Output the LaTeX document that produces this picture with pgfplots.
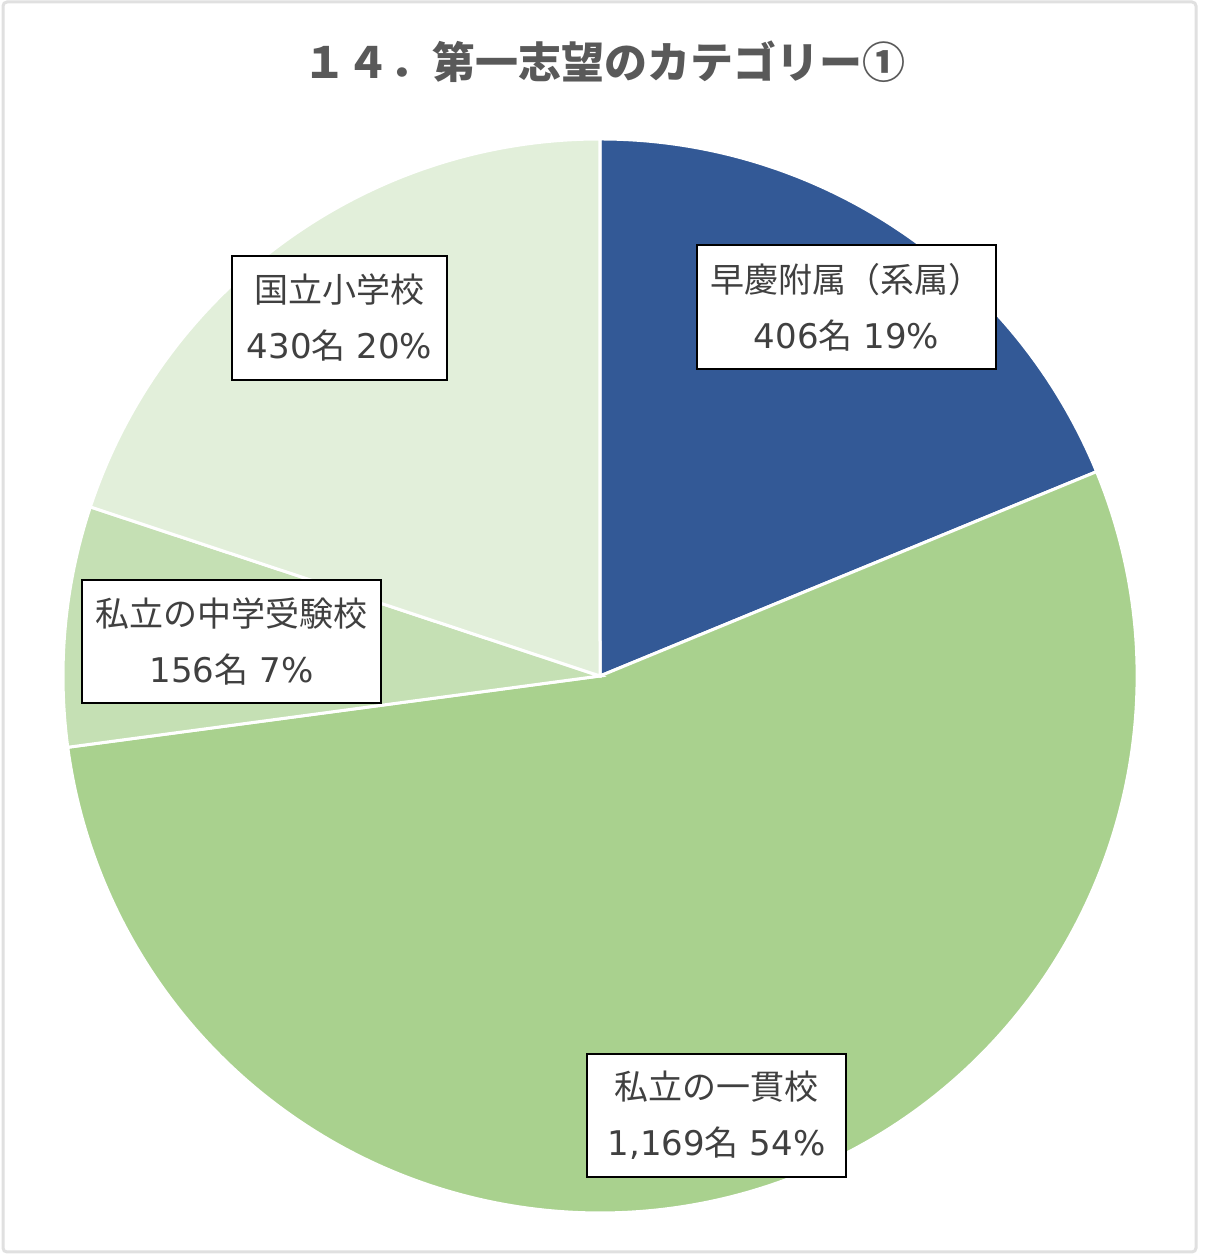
\documentclass[border=0pt]{standalone}
\usepackage{pgfplots}
\pgfplotsset{compat=1.18}
\usepackage{fontspec}
\setmainfont{Noto Sans CJK JP}
\newfontfamily\lat{DejaVu Sans}

\definecolor{sokei}{HTML}{335996}
\definecolor{ikkan}{HTML}{A9D18E}
\definecolor{juken}{HTML}{C5E0B4}
\definecolor{kokuritsu}{HTML}{E2EFDA}
\definecolor{labeltext}{HTML}{404040}
\definecolor{titletext}{HTML}{595959}

% values (persons), clockwise from 12 o'clock
\def\vA{406}  % 早慶附属（系属）
\def\vB{1169} % 私立の一貫校
\def\vC{156}  % 私立の中学受験校
\def\vD{430}  % 国立小学校
\pgfmathsetmacro\total{\vA+\vB+\vC+\vD}
\pgfmathsetmacro\aA{90}
\pgfmathsetmacro\aB{\aA-360*(\vA/\total)}
\pgfmathsetmacro\aC{\aB-360*(\vB/\total)}
\pgfmathsetmacro\aD{\aC-360*(\vC/\total)}
\pgfmathsetmacro\aE{\aD-360*(\vD/\total)}
\def\rad{268.5pt}

\begin{document}
\begin{tikzpicture}
\begin{axis}[
    x=0.5pt, y=0.5pt,
    xmin=0, xmax=1200, ymin=0, ymax=1257,
    hide axis, clip=false,
]
  \fill[white] (axis cs:0,0) rectangle (axis cs:1200,1257);
  \draw[black!12, line width=1.5pt, rounded corners=2pt] (axis cs:3,5) rectangle (axis cs:1196,1255);

  \filldraw[fill=sokei, draw=white, line width=1.5pt]
    (axis cs:600,581) -- ++(\aA:\rad) arc[start angle=\aA, end angle=\aB, radius=\rad] -- cycle;
  \filldraw[fill=ikkan, draw=white, line width=1.5pt]
    (axis cs:600,581) -- ++(\aB:\rad) arc[start angle=\aB, end angle=\aC, radius=\rad] -- cycle;
  \filldraw[fill=juken, draw=white, line width=1.5pt]
    (axis cs:600,581) -- ++(\aC:\rad) arc[start angle=\aC, end angle=\aD, radius=\rad] -- cycle;
  \filldraw[fill=kokuritsu, draw=white, line width=1.5pt]
    (axis cs:600,581) -- ++(\aD:\rad) arc[start angle=\aD, end angle=\aE, radius=\rad] -- cycle;

  \node[font=\fontsize{21.5}{26}\selectfont\bfseries, text=titletext]
    at (axis cs:604,1195) {１４．第一志望のカテゴリー①};

  \tikzset{lbl/.style={draw=black, line width=0.7pt, fill=white, align=center,
      inner sep=0pt, text=labeltext,
      font=\fontsize{17}{28}\selectfont}}
  \node[lbl, minimum width=149.5pt, minimum height=62pt] at (axis cs:846.5,950)
    {早慶附属（系属）\\{\lat 406}名{\lat\ 19\%}};
  \node[lbl, minimum width=107.5pt, minimum height=62pt] at (axis cs:339.5,939)
    {国立小学校\\{\lat 430}名{\lat\ 20\%}};
  \node[lbl, minimum width=149.5pt, minimum height=61.5pt] at (axis cs:231.5,615.5)
    {私立の中学受験校\\{\lat 156}名{\lat\ 7\%}};
  \node[lbl, minimum width=129.5pt, minimum height=61.5pt] at (axis cs:716.5,141.5)
    {私立の一貫校\\{\lat 1,169}名{\lat\ 54\%}};
\end{axis}
\end{tikzpicture}
\end{document}
